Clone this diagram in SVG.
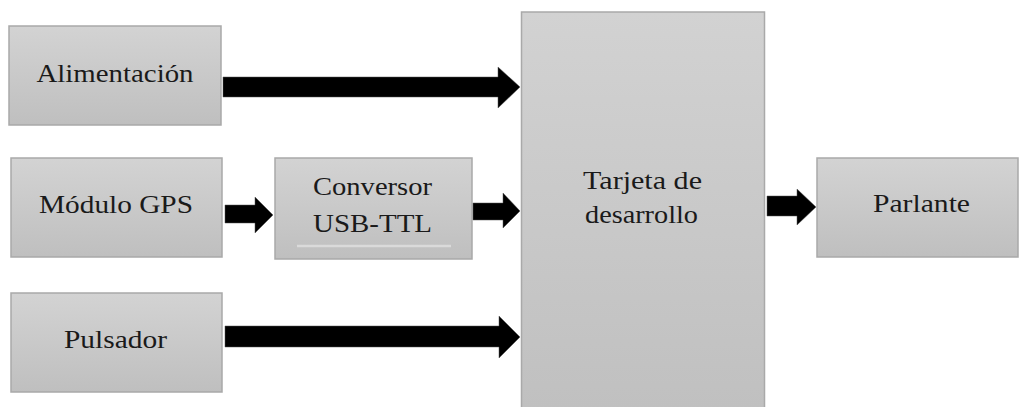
<svg xmlns="http://www.w3.org/2000/svg" width="1021" height="407" viewBox="0 0 1021 407">
<defs>
<linearGradient id="g" x1="0" y1="0" x2="0" y2="1">
<stop offset="0" stop-color="#d3d3d3"/>
<stop offset="1" stop-color="#bfbfbf"/>
</linearGradient>
<linearGradient id="gt" x1="0" y1="0" x2="0" y2="1">
<stop offset="0" stop-color="#d2d2d2"/>
<stop offset="1" stop-color="#c0c0c0"/>
</linearGradient>
</defs>
<style>
.box{fill:url(#g);stroke:#a9a9a9;stroke-width:1.5}
.lbl{font-family:'Liberation Serif','DejaVu Serif',serif;font-size:26px;fill:#1a1a1a;text-anchor:middle}
.arr{fill:#000;stroke:#555;stroke-width:0.5}
</style>
<rect width="1021" height="407" fill="#fff"/>
<g id="alimentacion">
<rect class="box" x="9" y="26" width="212" height="99"/>
<text class="lbl" x="115" y="82" textLength="157" lengthAdjust="spacingAndGlyphs">Alimentación</text>
</g>
<g id="modulo-gps">
<rect class="box" x="11" y="158" width="211" height="99"/>
<text class="lbl" x="116" y="213" textLength="154" lengthAdjust="spacingAndGlyphs">Módulo GPS</text>
</g>
<g id="pulsador">
<rect class="box" x="11" y="293" width="211" height="99"/>
<text class="lbl" x="115.5" y="348" textLength="103" lengthAdjust="spacingAndGlyphs">Pulsador</text>
</g>
<g id="conversor">
<rect class="box" x="275" y="158" width="197" height="101"/>
<line x1="297" y1="246" x2="451" y2="246" stroke="#dadada" stroke-width="2.5"/>
<text class="lbl" x="372.5" y="195" textLength="119" lengthAdjust="spacingAndGlyphs">Conversor</text>
<text class="lbl" x="372.5" y="232" textLength="119" lengthAdjust="spacingAndGlyphs">USB-TTL</text>
</g>
<g id="tarjeta">
<rect x="521.5" y="12" width="243" height="396" fill="url(#gt)" stroke="#a9a9a9" stroke-width="1.5"/>
<text class="lbl" x="642.5" y="189" textLength="119" lengthAdjust="spacingAndGlyphs">Tarjeta de</text>
<text class="lbl" x="641.5" y="223" textLength="113" lengthAdjust="spacingAndGlyphs">desarrollo</text>
</g>
<g id="parlante">
<rect class="box" x="817" y="158" width="201" height="99"/>
<text class="lbl" x="921.5" y="212" textLength="97" lengthAdjust="spacingAndGlyphs">Parlante</text>
</g>
<g id="connectors">
<polygon class="arr" points="223,77 498,77 498,67 520,87 498,108 498,97 223,97"/>
<polygon class="arr" points="225,205 255,205 255,197 273,215 255,233 255,223 225,223"/>
<polygon class="arr" points="473,203 503,203 503,193 520,211 503,228 503,220 473,220"/>
<polygon class="arr" points="225,326 499,326 499,316 520,337 499,358 499,347 225,347"/>
<polygon class="arr" points="767,196 797,196 797,189 816,207 797,225 797,216 767,216"/>
</g>
</svg>
